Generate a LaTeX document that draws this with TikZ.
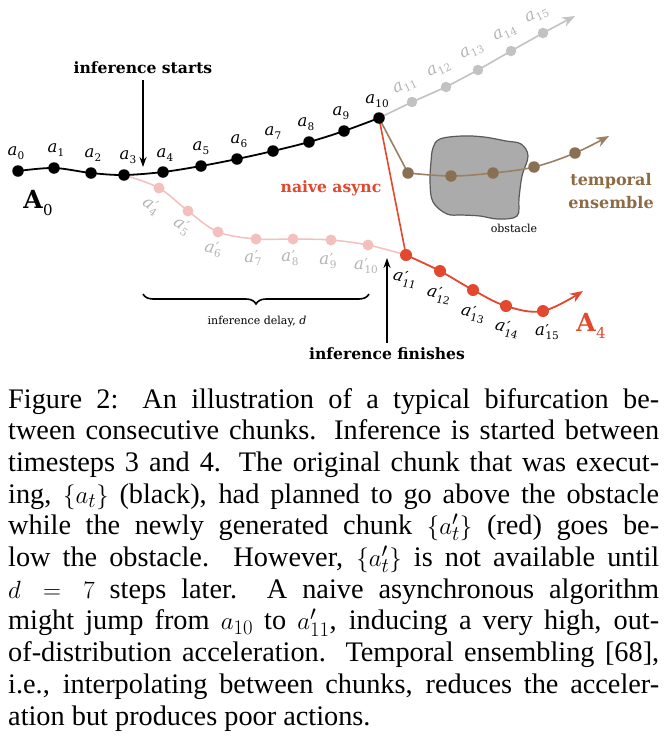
\documentclass[tikz,border=0pt]{standalone}
\usepackage{fontspec}
\setmainfont{Liberation Serif}
\newfontfamily\dfont{DejaVu Serif}
\usetikzlibrary{arrows.meta,decorations.pathreplacing}
\definecolor{rd}{HTML}{E2482E}
\definecolor{pnk}{HTML}{F3C0BD}
\definecolor{gry}{HTML}{C2C2C2}
\definecolor{glab}{HTML}{B4B4B4}
\definecolor{brn}{HTML}{9C8062}
\definecolor{brnd}{HTML}{8A7052}
\definecolor{brnt}{HTML}{8C6B45}
\definecolor{obfill}{HTML}{ABABAB}
\definecolor{obline}{HTML}{5A5A5A}
\newcommand\lbA[1]{\textit{a}\kern0.3pt\raisebox{-0.22em}{\fontsize{10.5}{10.5}\selectfont #1}}
\newcommand\lbP[1]{\textit{a}\kern0.6pt\rlap{\raisebox{0.05em}{\fontsize{15}{15}\selectfont ′}}\raisebox{-0.22em}{\fontsize{10.5}{10.5}\selectfont #1}}
\begin{document}
\begin{tikzpicture}[x=1pt,y=-1pt,
  bdot/.style={circle,fill=black,inner sep=0pt,minimum size=11.5pt},
  gdot/.style={circle,fill=gry,inner sep=0pt,minimum size=10.5pt},
  tdot/.style={circle,fill=brnd,inner sep=0pt,minimum size=11.5pt},
  rdot/.style={circle,fill=rd,inner sep=0pt,minimum size=12pt},
  pdot/.style={circle,fill=pnk,inner sep=0pt,minimum size=11pt},
  lab/.style={font=\dfont\fontsize{16.5}{16.5}\selectfont,inner sep=0pt},
  glabs/.style={lab,text=glab},
  bold/.style={font=\dfont\bfseries\fontsize{15.6}{18}\selectfont,inner sep=0pt},
  small/.style={font=\dfont\fontsize{11}{13}\selectfont,inner sep=0pt},
  capline/.style={anchor=base west,inner sep=0pt,font=\fontsize{28.3}{31.8}\selectfont},
  tip/.style={-{Stealth[length=13pt,width=10pt]}},
  thintip/.style={-{Stealth[length=10pt,width=7pt]}}
]
\useasboundingbox[fill=white] (0,0) rectangle (666,750);

% coordinates
\coordinate (a0) at (18,171);
\coordinate (a1) at (54,168);
\coordinate (a2) at (91,173);
\coordinate (a3) at (124,175);
\coordinate (a4) at (163,172);
\coordinate (a5) at (201,166);
\coordinate (a6) at (237,159);
\coordinate (a7) at (273,151);
\coordinate (a8) at (309,142);
\coordinate (a9) at (344,131);
\coordinate (a10) at (379,118);
\coordinate (g11) at (412,102);
\coordinate (g12) at (446,87);
\coordinate (g13) at (478,70);
\coordinate (g14) at (511,51);
\coordinate (g15) at (543,33);
\coordinate (gtip) at (575,16);
\coordinate (t11) at (408,173);
\coordinate (t12) at (451,176);
\coordinate (t13) at (493,173);
\coordinate (t14) at (534,167);
\coordinate (t15) at (575,153);
\coordinate (ttip) at (609,136);
\coordinate (p4) at (159,188);
\coordinate (p5) at (188,211);
\coordinate (p6) at (218,232);
\coordinate (p7) at (256,239);
\coordinate (p8) at (293,239);
\coordinate (p9) at (331,240);
\coordinate (p10) at (368,245);
\coordinate (r11) at (406,255);
\coordinate (r12) at (440,271);
\coordinate (r13) at (473,290);
\coordinate (r14) at (506,306);
\coordinate (r15) at (543,311);
\coordinate (rtip) at (583,291);

% obstacle
\draw[fill=obfill,draw=obline,line width=1.2pt] plot[smooth cycle,tension=0.6] coordinates {
 (440,139) (462,136) (484,137) (506,141) (521,144) (528,156) (522,176) (519,198) (517,216)
 (498,219) (480,216) (462,215) (447,214) (433,202) (430,182) (431,162) (433,148)};
\node[small,anchor=north] (obs) at (514,224) {obstacle};

% pink chain
\draw[pnk,line width=1.5pt] plot[smooth,tension=0.55] coordinates {(a3) (p4) (p5) (p6) (p7) (p8) (p9) (p10) (r11)};
% gray continuation
\draw[gry,line width=1.6pt] (a10) -- (g11) -- (g12) -- (g13) -- (g14) -- (g15);
\draw[gry,line width=1.6pt,tip] (g15) -- (gtip);
% brown temporal ensemble
\draw[brn,line width=1.6pt] (a10) -- (t11);
\draw[brn,line width=1.6pt,tip] plot[smooth,tension=0.6] coordinates {(t11) (t12) (t13) (t14) (t15) (ttip)};
% red naive
\draw[rd,line width=1.6pt] (a10) -- (r11);
\draw[rd,line width=1.8pt,tip] plot[smooth,tension=0.6] coordinates {(r11) (r12) (r13) (r14) (r15) (rtip)};
% black chain
\draw[black,line width=1.8pt] plot[smooth,tension=0.55] coordinates {(a0) (a1) (a2) (a3) (a4) (a5) (a6) (a7) (a8) (a9) (a10)};

% dots
\foreach \n in {4,...,10} \node[pdot] (dp\n) at (p\n) {};
\foreach \n in {11,...,15} \node[gdot] (dg\n) at (g\n) {};
\foreach \n in {11,...,15} \node[tdot] (dt\n) at (t\n) {};
\foreach \n in {11,...,15} \node[rdot] (dr\n) at (r\n) {};
\foreach \n in {0,...,10} \node[bdot] (da\n) at (a\n) {};

% black labels
\node[lab] (la0) at (16,153) {\lbA{0}};
\node[lab] (la1) at (56,150) {\lbA{1}};
\node[lab] (la2) at (93,155) {\lbA{2}};
\node[lab] (la3) at (128,157) {\lbA{3}};
\node[lab] (la4) at (165,155) {\lbA{4}};
\node[lab] (la5) at (201,148) {\lbA{5}};
\node[lab] (la6) at (239,141) {\lbA{6}};
\node[lab] (la7) at (273,133) {\lbA{7}};
\node[lab] (la8) at (306,124) {\lbA{8}};
\node[lab] (la9) at (341,113) {\lbA{9}};
\node[lab] (la10) at (377,101) {\lbA{10}};
% gray labels
\node[glabs,rotate=25] (lg11) at (405,86) {\lbA{11}};
\node[glabs,rotate=25] (lg12) at (439,69) {\lbA{12}};
\node[glabs,rotate=25] (lg13) at (472,51) {\lbA{13}};
\node[glabs,rotate=25] (lg14) at (505,33) {\lbA{14}};
\node[glabs,rotate=25] (lg15) at (537,15) {\lbA{15}};
% pink chain labels
\node[glabs,rotate=-35] (lp4) at (151,206) {\lbP{4}};
\node[glabs,rotate=-35] (lp5) at (182,226) {\lbP{5}};
\node[glabs,rotate=-12] (lp6) at (213,249) {\lbP{6}};
\node[glabs] (lp7) at (253,258) {\lbP{7}};
\node[glabs] (lp8) at (290,258) {\lbP{8}};
\node[glabs] (lp9) at (328,261) {\lbP{9}};
\node[glabs] (lp10) at (366,266) {\lbP{10}};
% red labels
\node[lab,rotate=-15] (lr11) at (405,279) {\lbP{11}};
\node[lab,rotate=-15] (lr12) at (439,295) {\lbP{12}};
\node[lab,rotate=-15] (lr13) at (473,314) {\lbP{13}};
\node[lab,rotate=-15] (lr14) at (507,329) {\lbP{14}};
\node[lab] (lr15) at (547,332) {\lbP{15}};

% chain names
\node[inner sep=0pt,anchor=base] (A0) at (38,208) {\dfont\bfseries\fontsize{25}{25}\selectfont A\kern0.5pt\raisebox{-0.28em}{\mdseries\fontsize{15}{15}\selectfont 0}};
\node[inner sep=0pt,anchor=base,text=rd] (A4) at (591,331) {\dfont\bfseries\fontsize{25}{25}\selectfont A\kern0.5pt\raisebox{-0.28em}{\mdseries\fontsize{15}{15}\selectfont 4}};

% annotations
\node[bold,text=rd] (naive) at (331,188) {naive async};
\node[bold,text=brnt,align=center,font=\dfont\bfseries\fontsize{16}{23}\selectfont] (temp) at (611,191) {temporal\\ensemble};

\node[bold] (istart) at (143,68) {inference starts};
\coordinate (istip) at (143,167);
\draw[black,line width=1.4pt,thintip] ([yshift=-6pt]istart.south) -- (istip);

\node[bold] (ifin) at (387,354) {inference finishes};
\coordinate (iftip) at (387,258);
\draw[black,line width=1.4pt,thintip] ([yshift=5pt]ifin.north) -- (iftip);

\coordinate (brL) at (143,294);
\coordinate (brR) at (369,294);
\draw[black,line width=1.6pt,decorate,decoration={brace,mirror,amplitude=10pt}] (brL) -- (brR);
\node[small] (delay) at (257,322) {inference delay, \textit{d}};

% caption
\node[capline] (c1) at (8,408) {\makebox[651pt][s]{Figure 2: An illustration of a typical bifurcation be-}};
\node[capline] (c2) at (8,439.7) {\makebox[651pt][s]{tween consecutive chunks. Inference is started between}};
\node[capline] (c3) at (8,471.4) {\makebox[651pt][s]{timesteps 3 and 4. The original chunk that was execut-}};
\node[capline] (c4) at (8,503.1) {\makebox[651pt][s]{ing, $\{a_t\}$ (black), had planned to go above the obstacle}};
\node[capline] (c5) at (8,534.8) {\makebox[651pt][s]{while the newly generated chunk $\{a'_t\}$ (red) goes be-}};
\node[capline] (c6) at (8,566.5) {\makebox[651pt][s]{low the obstacle. However, $\{a'_t\}$ is not available until}};
\node[capline] (c7) at (8,598.2) {\makebox[651pt][s]{$d = 7$ steps later.\ \ A naive asynchronous algorithm}};
\node[capline] (c8) at (8,629.9) {\makebox[651pt][s]{might jump from $a_{10}$ to $a'_{11}$, inducing a very high, out-}};
\node[capline] (c9) at (8,661.6) {\makebox[651pt][s]{of-distribution acceleration. Temporal ensembling [68],}};
\node[capline] (c10) at (8,693.3) {\makebox[651pt][s]{i.e., interpolating between chunks, reduces the acceler-}};
\node[capline] (c11) at (8,725) {ation but produces poor actions.};
\end{tikzpicture}
\end{document}
